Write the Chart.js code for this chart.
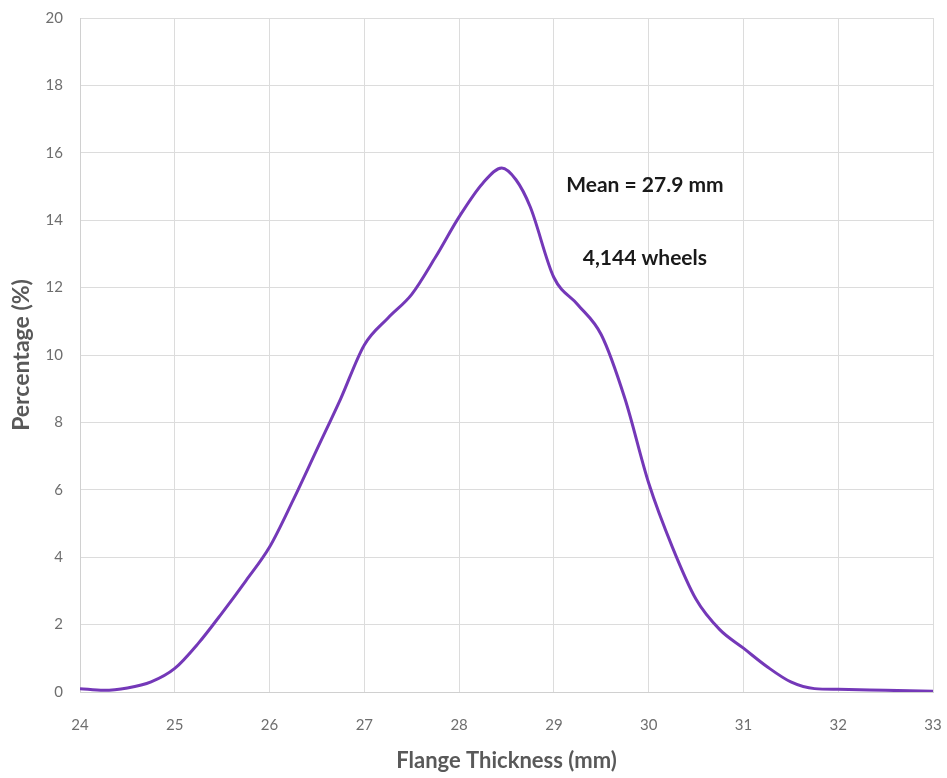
<!DOCTYPE html>
<html>
<head>
<meta charset="utf-8">
<script src="https://cdn.jsdelivr.net/npm/chart.js@4/dist/chart.umd.min.js"></script>
<style>
  html, body { margin: 0; padding: 0; background: #fff; }
  #wrap { width: 947px; height: 778px; }
</style>
</head>
<body>
<div id="wrap"><canvas id="chart" width="947" height="778"></canvas></div>
<script>
// Flange thickness (mm) and share of wheels (%)
const thickness = [24, 24.25, 24.5, 24.75, 25, 25.25, 25.5, 25.75, 26, 26.25, 26.5, 26.75,
  27, 27.25, 27.5, 27.75, 28, 28.25, 28.45, 28.6, 28.75, 29, 29.25, 29.5, 29.75,
  30, 30.25, 30.5, 30.75, 31, 31.25, 31.5, 31.75, 32, 32.5, 33];
const percentage = [0.1, 0.05, 0.12, 0.3, 0.7, 1.45, 2.35, 3.3, 4.3, 5.7, 7.2, 8.7,
  10.3, 11.1, 11.8, 12.9, 14.1, 15.1, 15.55, 15.2, 14.4, 12.3, 11.5, 10.6, 8.7,
  6.2, 4.3, 2.75, 1.85, 1.3, 0.75, 0.3, 0.1, 0.08, 0.05, 0.02];

const xTicks = [24, 25, 26, 27, 28, 29, 30, 31, 32, 33];
const yTicks = [0, 2, 4, 6, 8, 10, 12, 14, 16, 18, 20];

// text boxes placed in data coordinates
const notes = [
  { text: 'Mean = 27.9 mm', x: 29.96, y: 15.04 },
  { text: '4,144 wheels', x: 29.96, y: 12.88 }
];

const FONT = 'Lato, "Open Sans", sans-serif';

const notesPlugin = {
  id: 'notes',
  afterDatasetsDraw(chart) {
    const { ctx, scales } = chart;
    ctx.save();
    ctx.font = 'bold 21px ' + FONT;
    ctx.fillStyle = '#1a1a1a';
    ctx.textAlign = 'center';
    ctx.textBaseline = 'middle';
    notes.forEach(n => {
      ctx.fillText(n.text, scales.x.getPixelForValue(n.x), scales.y.getPixelForValue(n.y));
    });
    ctx.restore();
  }
};

new Chart(document.getElementById('chart'), {
  type: 'line',
  data: {
    datasets: [{
      data: thickness.map((t, i) => ({ x: t, y: percentage[i] })),
      borderColor: '#7438b8',
      borderWidth: 3,
      pointRadius: 0,
      cubicInterpolationMode: 'monotone',
      fill: false
    }]
  },
  options: {
    responsive: false,
    animation: false,
    layout: { padding: { top: 18, right: 14, left: 0, bottom: 0 } },
    plugins: { legend: { display: false }, tooltip: { enabled: false } },
    scales: {
      x: {
        type: 'linear',
        min: 24,
        max: 33,
        afterBuildTicks: s => { s.ticks = xTicks.map(v => ({ value: v })); },
        afterFit: s => { s.height = 86; s.paddingLeft = 0; s.paddingRight = 0; },
        grid: { color: '#dcdcdc', lineWidth: 1, drawTicks: false },
        border: { color: '#d0d0d0' },
        ticks: { padding: 24, color: '#6e6e6e', font: { family: FONT, size: 15 } },
        title: {
          display: true,
          text: 'Flange Thickness (mm)',
          color: '#595959',
          font: { family: FONT, size: 22, weight: 'bold' },
          padding: { top: 10 }
        }
      },
      y: {
        min: 0,
        max: 20,
        afterBuildTicks: s => { s.ticks = yTicks.map(v => ({ value: v })); },
        afterFit: s => { s.width = 80; s.paddingTop = 0; s.paddingBottom = 0; },
        grid: { color: '#dcdcdc', lineWidth: 1, drawTicks: false },
        border: { color: '#d0d0d0' },
        ticks: { padding: 17, color: '#6e6e6e', font: { family: FONT, size: 15 } },
        title: {
          display: true,
          text: 'Percentage (%)',
          color: '#595959',
          font: { family: FONT, size: 23, weight: 'bold' },
          padding: { top: 8, bottom: 4 }
        }
      }
    }
  },
  plugins: [notesPlugin]
});
</script>
</body>
</html>
